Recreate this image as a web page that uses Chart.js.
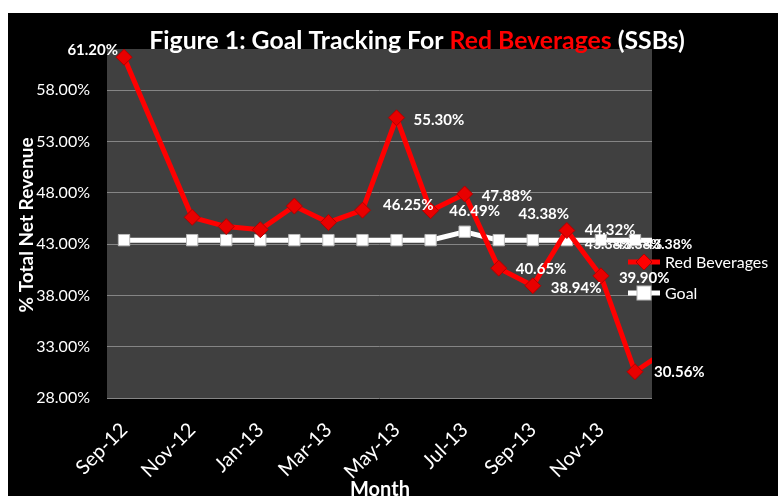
<!DOCTYPE html>
<html lang="en">
<head>
    <meta charset="UTF-8">
    <title>Goal Tracking For Red Beverages</title>
    <script src="https://cdn.jsdelivr.net/npm/chart.js"></script>
    <style>
        body { margin: 0; background: #fff; }
        #chart-container { position: absolute; left: 8px; top: 13px; width: 770px; height: 483px; background: #000; }
    </style>
</head>
<body>
    <div id="chart-container"><canvas id="meuGrafico"></canvas></div>

    <script>
        const months = ['Sep-12', 'Oct-12', 'Nov-12', 'Dec-12', 'Jan-13', 'Feb-13', 'Mar-13', 'Apr-13', 'May-13',
            'Jun-13', 'Jul-13', 'Aug-13', 'Sep-13', 'Oct-13', 'Nov-13', 'Dec-13', 'Jan-14'];
        const redBeverages = [61.20, null, 45.6, 44.7, 44.4, 46.7, 45.1, 46.3, 55.30,
            46.25, 47.88, 40.65, 38.94, 44.32, 39.90, 30.56, 32.8];
        const goal = [43.38, null, 43.38, 43.38, 43.38, 43.38, 43.38, 43.38, 43.38,
            43.38, 44.2, 43.38, 43.38, 43.38, 43.38, 43.38, 43.38];
        const redLabels = ['61.20%', '', '', '', '', '', '', '', '55.30%',
            '46.25%', '47.88%', '40.65%', '38.94%', '44.32%', '39.90%', '30.56%', ''];
        const goalLabels = ['', '', '', '', '', '', '', '', '',
            '', '46.49%', '', '43.38%', '43.38%', '43.38%', '43.38%', ''];
        const xTickLabels = ['Sep-12', 'Nov-12', 'Jan-13', 'Mar-13', 'May-13', 'Jul-13', 'Sep-13', 'Nov-13'];
        const yTickValues = [28, 33, 38, 43, 48, 53, 58];

        // onde cada rótulo fica em relação ao ponto: [alinhamento, dx, dy, tamanho]
        const posicaoRotulos = {
            0: { 0: ['right', -6, -7, 15], 8: ['left', 17, 2, 15], 9: ['right', 3, -6, 15], 10: ['left', 17, 2, 15],
                 11: ['left', 17, 1, 15], 12: ['left', 18, 2, 15], 13: ['left', 18, 0, 15], 14: ['left', 18, 2, 15], 15: ['left', 19, 0, 15] },
            1: { 10: ['center', 10, -21, 15], 12: ['center', 11, -26, 15], 13: ['left', 18, 4, 14], 14: ['left', 14, 4, 14], 15: ['left', 10, 4, 14] }
        };

        const desenho = {
            id: 'desenho',
            beforeDraw(chart) {
                const { ctx, chartArea: a } = chart;
                ctx.save();
                ctx.fillStyle = '#000';
                ctx.fillRect(0, 0, chart.width, chart.height);
                ctx.fillStyle = '#404040';
                ctx.fillRect(a.left, a.top, a.right - a.left, a.bottom - a.top);
                ctx.restore();
            },
            afterDatasetsDraw(chart) {
                const ctx = chart.ctx;
                const textos = [redLabels, goalLabels];
                ctx.save();
                ctx.fillStyle = '#fff';
                ctx.textBaseline = 'middle';
                textos.forEach((lista, d) => {
                    const meta = chart.getDatasetMeta(d);
                    lista.forEach((t, i) => {
                        const p = posicaoRotulos[d][i];
                        if (!t || !p) return;
                        const el = meta.data[i];
                        ctx.font = 'bold ' + p[3] + 'px Lato';
                        ctx.textAlign = p[0];
                        ctx.fillText(t, el.x + p[1], el.y + p[2]);
                    });
                });
                ctx.restore();
            },
            afterDraw(chart) {
                const ctx = chart.ctx;
                ctx.save();

                // título com "Red Beverages" em vermelho
                const partes = [['Figure 1: Goal Tracking For ', '#fff'], ['Red Beverages', '#ff0000'], [' (SSBs)', '#fff']];
                ctx.font = 'bold 22px Lato';
                let largura = partes.reduce((s, p) => s + ctx.measureText(p[0]).width, 0);
                const tam = 22 * 536 / largura;
                ctx.font = 'bold ' + tam.toFixed(1) + 'px Lato';
                largura = partes.reduce((s, p) => s + ctx.measureText(p[0]).width, 0);
                let x = 409 - largura / 2;
                ctx.textBaseline = 'middle';
                ctx.textAlign = 'left';
                partes.forEach(p => {
                    ctx.fillStyle = p[1];
                    ctx.fillText(p[0], x, 28);
                    x += ctx.measureText(p[0]).width;
                });

                // títulos dos eixos
                ctx.fillStyle = '#fff';
                ctx.font = 'bold 19px Lato';
                ctx.textAlign = 'center';
                ctx.save();
                ctx.translate(19, 212);
                ctx.rotate(-Math.PI / 2);
                ctx.fillText('% Total Net Revenue', 0, 0);
                ctx.restore();

                ctx.font = 'bold 20px Lato';
                ctx.textBaseline = 'top';
                ctx.fillText('Month', 372, 467);

                // legenda
                const itens = [
                    { nome: 'Red Beverages', cor: '#ff0000', y: 249, forma: 'losango' },
                    { nome: 'Goal', cor: '#fff', y: 280, forma: 'quadrado' }
                ];
                itens.forEach(it => {
                    ctx.strokeStyle = it.cor;
                    ctx.lineWidth = 5;
                    ctx.beginPath();
                    ctx.moveTo(620, it.y);
                    ctx.lineTo(652, it.y);
                    ctx.stroke();
                    ctx.fillStyle = it.cor;
                    ctx.lineWidth = 1;
                    if (it.forma === 'losango') {
                        ctx.strokeStyle = '#b00000';
                        ctx.beginPath();
                        ctx.moveTo(636, it.y - 8);
                        ctx.lineTo(644, it.y);
                        ctx.lineTo(636, it.y + 8);
                        ctx.lineTo(628, it.y);
                        ctx.closePath();
                        ctx.fill();
                        ctx.stroke();
                    } else {
                        ctx.strokeStyle = '#bbb';
                        ctx.fillRect(629, it.y - 7, 14, 14);
                        ctx.strokeRect(629, it.y - 7, 14, 14);
                    }
                    ctx.fillStyle = '#fff';
                    ctx.font = '16px Lato';
                    ctx.textAlign = 'left';
                    ctx.textBaseline = 'middle';
                    ctx.fillText(it.nome, 657, it.y + 1);
                });
                ctx.restore();
            }
        };

        const ctx = document.getElementById('meuGrafico').getContext('2d');
        const meuGrafico = new Chart(ctx, {
            type: 'line',
            data: {
                datasets: [{
                    label: 'Red Beverages',
                    data: redBeverages.map((v, i) => ({ x: i, y: v })),
                    borderColor: '#ff0000',
                    borderWidth: 5,
                    pointStyle: 'rectRot',
                    pointRadius: 8,
                    pointBackgroundColor: '#e80000',
                    pointBorderColor: '#b00000',
                    pointBorderWidth: 1,
                    spanGaps: true,
                    clip: 0
                }, {
                    label: 'Goal',
                    data: goal.map((v, i) => ({ x: i, y: v })),
                    borderColor: '#ffffff',
                    borderWidth: 5,
                    pointStyle: 'rect',
                    pointRadius: 8,
                    pointBackgroundColor: '#ffffff',
                    pointBorderColor: '#bbbbbb',
                    pointBorderWidth: 1,
                    spanGaps: true,
                    clip: 0
                }]
            },
            options: {
                responsive: true,
                maintainAspectRatio: false,
                animation: false,
                layout: { padding: { top: 36, right: 126, bottom: 0, left: 0 } },
                plugins: { legend: { display: false }, tooltip: { enabled: false } },
                scales: {
                    x: {
                        type: 'linear',
                        min: -0.5,
                        max: 15.5,
                        afterBuildTicks: s => { s.ticks = xTickLabels.map(l => ({ value: months.indexOf(l) })); },
                        afterFit: s => { s.height = 98; },
                        grid: { display: false },
                        border: { display: false },
                        ticks: {
                            color: '#fff',
                            font: { family: 'Lato', size: 20 },
                            minRotation: 45,
                            maxRotation: 45,
                            autoSkip: false,
                            padding: 12,
                            callback: v => months[v]
                        }
                    },
                    y: {
                        min: 28,
                        max: 62,
                        afterBuildTicks: s => { s.ticks = yTickValues.map(v => ({ value: v })); },
                        afterFit: s => { s.width = 99; },
                        grid: { color: '#858585', lineWidth: 1, drawTicks: false },
                        border: { display: false },
                        ticks: {
                            color: '#fff',
                            font: { family: 'Lato', size: 16 },
                            padding: 17,
                            callback: v => v.toFixed(2) + '%'
                        }
                    }
                }
            },
            plugins: [desenho]
        });
    </script>
</body>
</html>
